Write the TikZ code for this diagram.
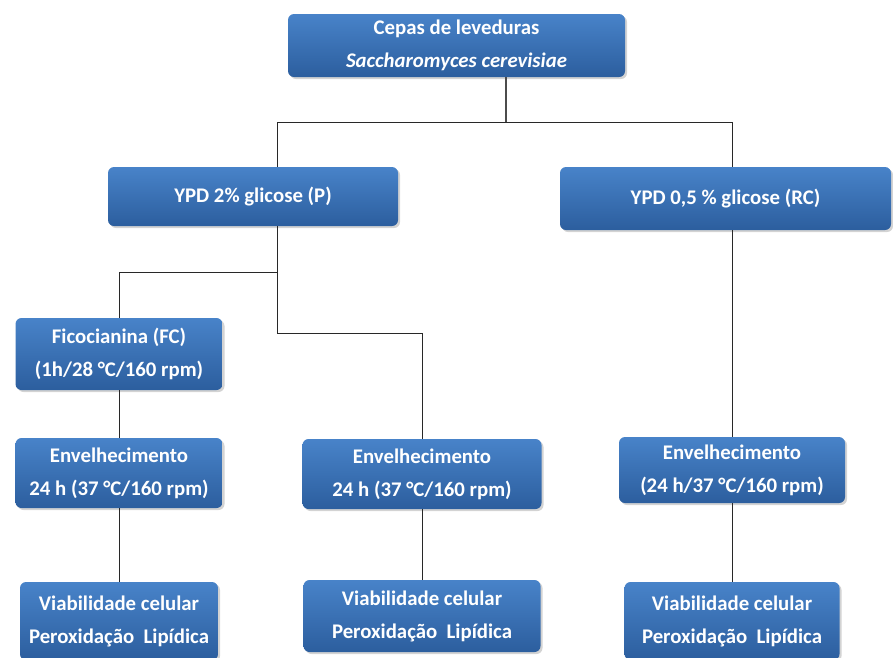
\documentclass[tikz,border=0pt]{standalone}
\usepackage{fontspec}
\setmainfont{Carlito}
\usetikzlibrary{shadows}

\definecolor{boxtop}{RGB}{72,131,201}
\definecolor{boxbot}{RGB}{44,94,158}
\definecolor{linegray}{RGB}{40,40,40}

\tikzset{
  stepbox/.style={rounded corners=6pt, top color=boxtop, bottom color=boxbot,
    draw=none, text=white, font=\fontsize{20.8}{33}\selectfont\bfseries,
    align=center, inner sep=0pt,
    drop shadow={opacity=0.35, shadow xshift=2pt, shadow yshift=-2pt}},
  link/.style={linegray, line width=0.8pt},
  mainlink/.style={gray!60!black, line width=1.6pt}
}

\begin{document}
\begin{tikzpicture}[x=1pt, y=-1pt]
\useasboundingbox (0,0) rectangle (893,657);

\node [stepbox, minimum width=337pt, minimum height=63pt] (cepas) at (456.5, 45.5)
  {Cepas de leveduras\\ \textit{Saccharomyces cerevisiae}};

\node [stepbox, minimum width=290pt, minimum height=59pt] (ypdp) at (253, 196.5) {YPD 2\% glicose (P)};
\node [stepbox, minimum width=331pt, minimum height=63pt] (ypdrc) at (725.5, 198.5) {YPD 0,5 \% glicose (RC)};

\node [stepbox, minimum width=207pt, minimum height=72pt] (fico) at (119, 354) {Ficocianina (FC)\\ (1h/28 °C/160 rpm)};

\node [stepbox, minimum width=207pt, minimum height=70pt] (envl) at (119, 473) {Envelhecimento\\ 24 h (37 °C/160 rpm)};
\node [stepbox, minimum width=239pt, minimum height=70pt] (envm) at (422, 474) {Envelhecimento\\ 24 h (37 °C/160 rpm)};
\node [stepbox, minimum width=226pt, minimum height=66pt] (envr) at (732, 470) {Envelhecimento\\ (24 h/37 °C/160 rpm)};

\node [stepbox, minimum width=198pt, minimum height=78pt] (viabl) at (119, 621) {Viabilidade celular\\ Peroxidação\ \ Lipídica};
\node [stepbox, minimum width=237pt, minimum height=72pt] (viabm) at (422, 616) {Viabilidade celular\\ Peroxidação\ \ Lipídica};
\node [stepbox, minimum width=215pt, minimum height=78pt] (viabr) at (732, 621) {Viabilidade celular\\ Peroxidação\ \ Lipídica};

% junctions
\coordinate (top) at (506, 122);
\coordinate (splitp) at (277, 122);
\coordinate (splitrc) at (732, 122);
\coordinate (forkp) at (277, 272);
\coordinate (forkfc) at (119, 272);
\coordinate (bendp) at (277, 333);
\coordinate (bendm) at (422, 333);

\draw [mainlink] (cepas.south -| top) -- (top);
\draw [link] (ypdp.north -| splitp) -- (splitp) -- (splitrc) -- (ypdrc.north -| splitrc);

\draw [link] (ypdp.south -| forkp) -- (bendp) -- (bendm) -- (envm.north);
\draw [link] (forkp) -- (forkfc) -- (fico.north);

\draw [link] (fico) -- (envl);
\draw [link] (envl) -- (viabl);
\draw [link] (envm) -- (viabm);
\draw [link] (ypdrc.south -| envr) -- (envr);
\draw [link] (envr) -- (viabr);

\end{tikzpicture}
\end{document}
